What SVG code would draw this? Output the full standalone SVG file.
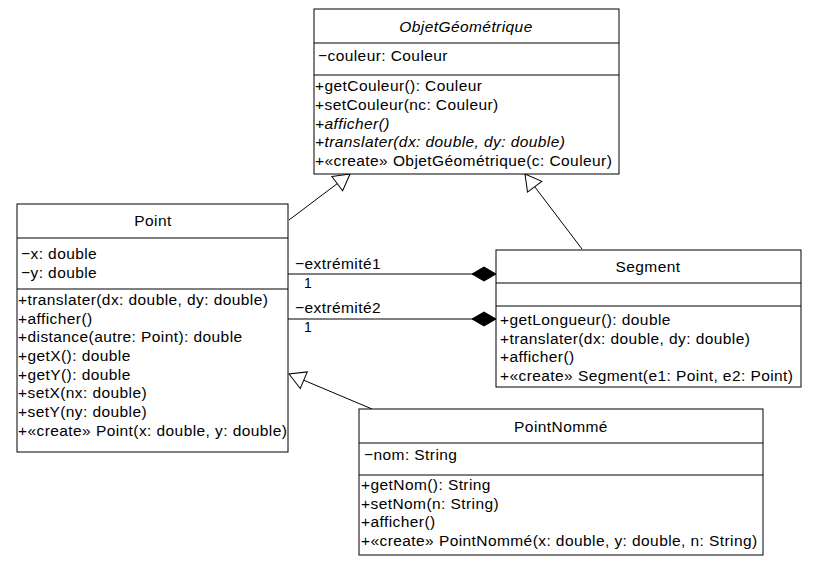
<svg xmlns="http://www.w3.org/2000/svg" width="820" height="561" viewBox="0 0 820 561">
<defs>
<style>
.box{fill:#fff;stroke:#000;stroke-width:1}
.sep{stroke:#000;stroke-width:1}
text{font-family:"Liberation Sans",Arial,sans-serif;font-size:15.5px;letter-spacing:0.42px;fill:#000}
.t{text-anchor:middle}
.i{font-style:italic}
.ln{stroke:#000;stroke-width:1;fill:none}
</style>
<marker id="tri" markerUnits="userSpaceOnUse" markerWidth="20" markerHeight="20" refX="16" refY="9" orient="auto" overflow="visible">
<path d="M0,0 L16,9 L0,18 Z" fill="#fff" stroke="#000" stroke-width="1"/>
</marker>
<marker id="dia" markerUnits="userSpaceOnUse" markerWidth="26" markerHeight="16" refX="24" refY="7" orient="auto" overflow="visible">
<path d="M0,7 L12,0 L24,7 L12,14 Z" fill="#000" stroke="#000" stroke-width="1"/>
</marker>
</defs>
<rect width="820" height="561" fill="#fff"/>

<g id="connectors">
<line class="ln" x1="289" y1="220" x2="350" y2="174" marker-end="url(#tri)"/>
<line class="ln" x1="582" y1="249" x2="525" y2="174" marker-end="url(#tri)"/>
<line class="ln" x1="372" y1="409" x2="289" y2="374" marker-end="url(#tri)"/>
<line class="ln" x1="288" y1="274" x2="496" y2="274" marker-end="url(#dia)"/>
<line class="ln" x1="288" y1="319" x2="496" y2="319" marker-end="url(#dia)"/>
<text x="295" y="269">−extrémité1</text>
<text x="304" y="288" style="font-size:14px">1</text>
<text x="295" y="313">−extrémité2</text>
<text x="304" y="332" style="font-size:14px">1</text>
</g>

<g id="ObjetGeometrique">
<rect class="box" x="314" y="9" width="305" height="165"/>
<line class="sep" x1="314" y1="43" x2="619" y2="43"/>
<line class="sep" x1="314" y1="75" x2="619" y2="75"/>
<text class="t i" x="466" y="32">ObjetGéométrique</text>
<text x="318" y="61">−couleur: Couleur</text>
<text x="315" y="91">+getCouleur(): Couleur</text>
<text x="315" y="110">+setCouleur(nc: Couleur)</text>
<text class="i" x="315" y="129">+afficher()</text>
<text class="i" x="315" y="147">+translater(dx: double, dy: double)</text>
<text x="315" y="166">+«create» ObjetGéométrique(c: Couleur)</text>
</g>

<g id="Point">
<rect class="box" x="17" y="204" width="271" height="248"/>
<line class="sep" x1="17" y1="238" x2="288" y2="238"/>
<line class="sep" x1="17" y1="289" x2="288" y2="289"/>
<text class="t" x="153" y="226">Point</text>
<text x="21" y="259">−x: double</text>
<text x="21" y="278">−y: double</text>
<text x="18" y="305">+translater(dx: double, dy: double)</text>
<text x="18" y="324">+afficher()</text>
<text x="18" y="342">+distance(autre: Point): double</text>
<text x="18" y="361">+getX(): double</text>
<text x="18" y="380">+getY(): double</text>
<text x="18" y="398">+setX(nx: double)</text>
<text x="18" y="417">+setY(ny: double)</text>
<text x="18" y="436">+«create» Point(x: double, y: double)</text>
</g>

<g id="Segment">
<rect class="box" x="496" y="250" width="305" height="137"/>
<line class="sep" x1="496" y1="283" x2="801" y2="283"/>
<line class="sep" x1="496" y1="306" x2="801" y2="306"/>
<text class="t" x="648" y="272">Segment</text>
<text x="500" y="325">+getLongueur(): double</text>
<text x="500" y="344">+translater(dx: double, dy: double)</text>
<text x="500" y="362">+afficher()</text>
<text x="500" y="381">+«create» Segment(e1: Point, e2: Point)</text>
</g>

<g id="PointNomme">
<rect class="box" x="359" y="409" width="404" height="146"/>
<line class="sep" x1="359" y1="443" x2="763" y2="443"/>
<line class="sep" x1="359" y1="475" x2="763" y2="475"/>
<text class="t" x="561" y="432">PointNommé</text>
<text x="364" y="460">−nom: String</text>
<text x="361" y="490">+getNom(): String</text>
<text x="361" y="509">+setNom(n: String)</text>
<text x="361" y="527">+afficher()</text>
<text x="361" y="546">+«create» PointNommé(x: double, y: double, n: String)</text>
</g>
</svg>
